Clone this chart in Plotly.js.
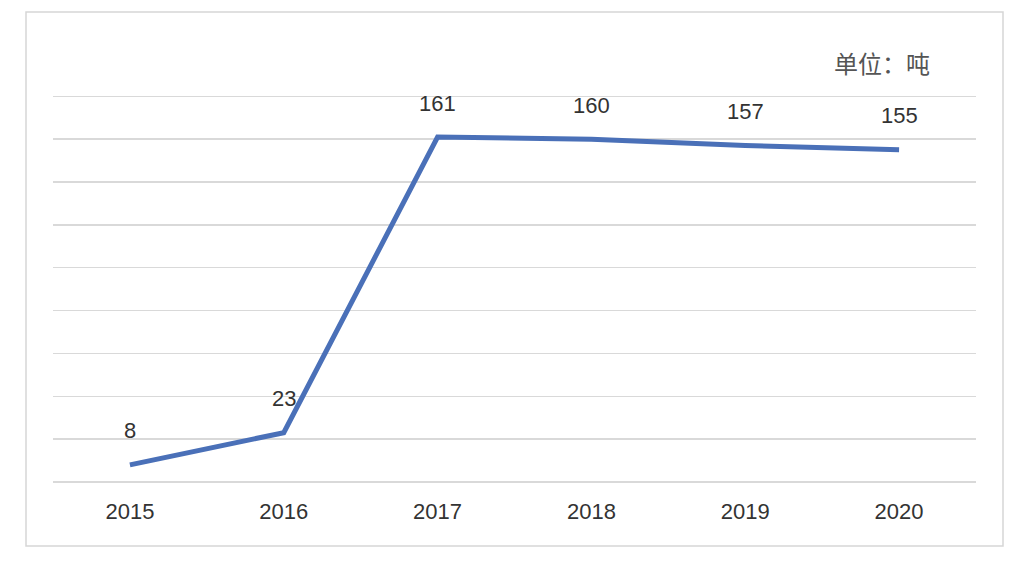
<!DOCTYPE html>
<html>
<head>
<meta charset="utf-8">
<script src="https://cdn.plot.ly/plotly-3.0.1.min.js"></script>
<style>html,body{margin:0;padding:0;background:#fff;}#chart{width:1028px;height:576px;}</style>
</head>
<body>
<div id="chart"></div>
<script>
const years = ["2015", "2016", "2017", "2018", "2019", "2020"];
const values = [8, 23, 161, 160, 157, 155];
const unitLabel = "单位：吨";

const trace = {
  x: years,
  y: values,
  type: "scatter",
  mode: "lines",
  line: { color: "#4a70b8", width: 5 },
  hoverinfo: "skip"
};

const W = 923, H = 390;
const toPX = px => (px - 53) / W;
const toPY = py => (482 - py) / H;

const annotations = values.map((v, i) => ({
  x: i, y: v, xref: "x", yref: "y",
  text: String(v), showarrow: false, yshift: 34,
  xanchor: "center", yanchor: "middle",
  font: { family: "Liberation Sans, Arial, sans-serif", size: 22, color: "#333333" }
}));
annotations.push({
  x: toPX(932), y: toPY(62), xref: "paper", yref: "paper",
  xanchor: "right", yanchor: "middle",
  text: unitLabel, showarrow: false,
  font: { family: "Noto Sans CJK SC, sans-serif", size: 24, color: "#555555" }
});

const layout = {
  width: 1028, height: 576,
  margin: { l: 53, r: 52, t: 92, b: 94 },
  paper_bgcolor: "#ffffff", plot_bgcolor: "#ffffff",
  showlegend: false,
  xaxis: {
    type: "category", range: [-0.5, 5.5],
    showgrid: false, zeroline: false, showline: false,
    ticks: "", ticklabelstandoff: 14,
    tickfont: { family: "Liberation Sans, Arial, sans-serif", size: 22, color: "#333333" },
    fixedrange: true
  },
  yaxis: {
    range: [0, 182], dtick: 20, tick0: 0,
    showgrid: true, gridcolor: "#d9d9d9", gridwidth: 1.5,
    zeroline: true, zerolinecolor: "#d9d9d9", zerolinewidth: 1.5,
    showticklabels: false, ticks: "", showline: false,
    fixedrange: true
  },
  shapes: [{
    type: "rect", xref: "paper", yref: "paper",
    x0: toPX(26), x1: toPX(1003), y0: toPY(546), y1: toPY(12),
    line: { color: "#d6d6d6", width: 1.5 }, fillcolor: "rgba(0,0,0,0)", layer: "below"
  }],
  annotations: annotations
};

Plotly.newPlot("chart", [trace], layout, { displayModeBar: false, staticPlot: true });
</script>
</body>
</html>
